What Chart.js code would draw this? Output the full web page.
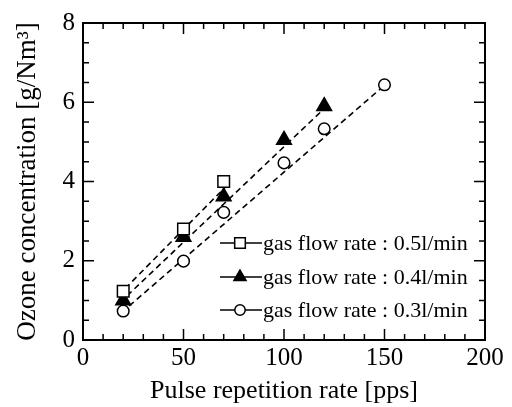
<!DOCTYPE html>
<html>
<head>
<meta charset="utf-8">
<script src="https://cdn.jsdelivr.net/npm/chart.js@4/dist/chart.umd.min.js"></script>
<style>
  html, body { margin: 0; padding: 0; background: #fff; }
  #wrap { width: 512px; height: 407px; }
</style>
</head>
<body>
<div id="wrap"><canvas id="ozoneChart"></canvas></div>
<script>
const flow05X = [20, 50, 70];
const flow05Y = [1.23, 2.8, 4.0];
const flow04X = [20, 50, 70, 100, 120];
const flow04Y = [1.0, 2.6, 3.62, 5.05, 5.9];
const flow03X = [20, 50, 70, 100, 120, 150];
const flow03Y = [0.73, 1.99, 3.22, 4.47, 5.33, 6.44];

// dashed fit lines (start / end)
const fit05X = [21, 71];
const fit05Y = [1.3, 3.87];
const fit04X = [22, 120];
const fit04Y = [1.12, 5.84];
const fit03X = [23, 148];
const fit03Y = [0.86, 6.34];

const legendLabels = ["gas flow rate : 0.5l/min", "gas flow rate : 0.4l/min", "gas flow rate : 0.3l/min"];
const xTickLabels = [0, 50, 100, 150, 200];
const yTickLabels = [0, 2, 4, 6, 8];

const serif = "'Liberation Serif', 'DejaVu Serif', serif";

function pts(xs, ys) {
  return xs.map((x, i) => ({ x: x, y: ys[i] }));
}

function markerSet(label, xs, ys, style, fill, r) {
  return {
    type: "scatter",
    label: label,
    data: pts(xs, ys),
    pointStyle: style,
    pointRadius: r,
    pointBackgroundColor: fill,
    pointBorderColor: "#000",
    pointBorderWidth: 1.5,
    showLine: false,
    order: 0
  };
}

function fitSet(xs, ys) {
  return {
    type: "line",
    data: pts(xs, ys),
    borderColor: "#000",
    borderWidth: 1.6,
    borderDash: [6, 4],
    pointRadius: 0,
    fill: false,
    order: 1
  };
}

// box, inward ticks and legend
const framePlugin = {
  id: "frame",
  afterDraw(chart) {
    const ctx = chart.ctx;
    const a = chart.chartArea;
    const xs = chart.scales.x, ys = chart.scales.y;
    ctx.save();
    ctx.strokeStyle = "#000";
    ctx.lineWidth = 2;
    ctx.strokeRect(a.left, a.top, a.right - a.left, a.bottom - a.top);
    ctx.lineWidth = 1.5;
    ctx.beginPath();
    for (let v = 0; v <= 200; v += 10) {
      const px = xs.getPixelForValue(v);
      const len = v % 50 === 0 ? 11 : 6;
      ctx.moveTo(px, a.bottom); ctx.lineTo(px, a.bottom - len);
      ctx.moveTo(px, a.top); ctx.lineTo(px, a.top + len);
    }
    for (let v = 0; v <= 8; v += 0.5) {
      const py = ys.getPixelForValue(v);
      const len = v % 2 === 0 ? 11 : 6;
      ctx.moveTo(a.left, py); ctx.lineTo(a.left + len, py);
      ctx.moveTo(a.right, py); ctx.lineTo(a.right - len, py);
    }
    ctx.stroke();

    // legend
    const rows = [243, 277, 310];
    const legendRadius = [7.5, 7, 5.2];
    ctx.font = "22px " + serif;
    ctx.textBaseline = "middle";
    legendLabels.forEach((txt, i) => {
      const ds = chart.data.datasets[i];
      const y = rows[i];
      ctx.strokeStyle = "#000";
      ctx.lineWidth = 1.5;
      ctx.beginPath();
      ctx.moveTo(220, y); ctx.lineTo(262, y);
      ctx.stroke();
      ctx.fillStyle = ds.pointBackgroundColor;
      Chart.helpers.drawPoint(ctx, { pointStyle: ds.pointStyle, radius: legendRadius[i], borderWidth: 1.5 }, 240, y);
      ctx.fillStyle = "#000";
      ctx.fillText(txt, 263, y + 1);
    });
    ctx.restore();
  }
};

new Chart("ozoneChart", {
  data: {
    datasets: [
      markerSet(legendLabels[0], flow05X, flow05Y, "rect", "#fff", 8.2),
      markerSet(legendLabels[1], flow04X, flow04Y, "triangle", "#000", 8.5),
      markerSet(legendLabels[2], flow03X, flow03Y, "circle", "#fff", 5.8),
      fitSet(fit05X, fit05Y),
      fitSet(fit04X, fit04Y),
      fitSet(fit03X, fit03Y)
    ]
  },
  options: {
    responsive: true,
    maintainAspectRatio: false,
    animation: false,
    layout: { padding: { left: 0, right: 27, top: 16, bottom: 0 } },
    plugins: { legend: { display: false }, tooltip: { enabled: false } },
    scales: {
      x: {
        type: "linear",
        min: 0, max: 200,
        afterBuildTicks: s => { s.ticks = xTickLabels.map(v => ({ value: v })); },
        afterFit: s => { s.height = 67; },
        grid: { display: false, drawTicks: false, tickLength: 0 },
        border: { display: false },
        ticks: { color: "#000", font: { family: serif, size: 25 }, padding: 3, maxRotation: 0 },
        title: {
          display: true,
          text: "Pulse repetition rate [pps]",
          color: "#000",
          font: { family: serif, size: 26 },
          padding: { top: 0, bottom: 0 }
        }
      },
      y: {
        type: "linear",
        min: 0, max: 8,
        afterBuildTicks: s => { s.ticks = yTickLabels.map(v => ({ value: v })); },
        afterFit: s => { s.width = 83; },
        grid: { display: false, drawTicks: false, tickLength: 0 },
        border: { display: false },
        ticks: { color: "#000", font: { family: serif, size: 25 }, padding: 8 },
        title: {
          display: true,
          text: "Ozone concentration [g/Nm³]",
          color: "#000",
          font: { family: serif, size: 27 },
          padding: { top: 12, bottom: 0 }
        }
      }
    }
  },
  plugins: [framePlugin]
});
</script>
</body>
</html>
